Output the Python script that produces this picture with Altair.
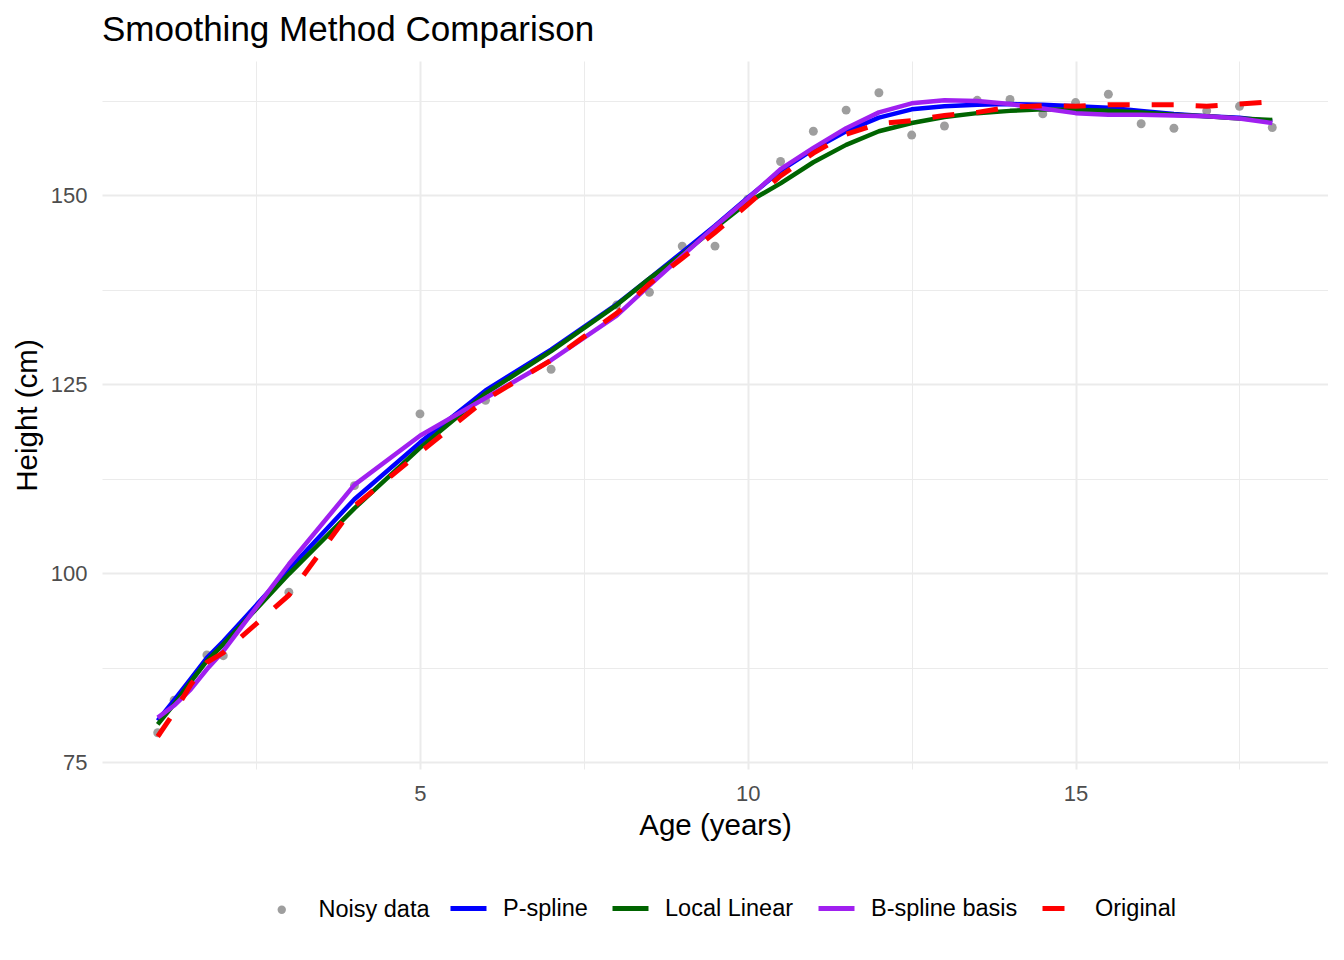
import altair as alt
import pandas as pd

# ---- data ----
ages = [1, 1.25, 1.5, 1.75, 2, 3, 4, 5, 6, 7, 8, 8.5, 9, 9.5, 10, 10.5, 11, 11.5,
        12, 12.5, 13, 13.5, 14, 14.5, 15, 15.5, 16, 16.5, 17, 17.5, 18]
noisy = [78.9, 83.2, 85.4, 89.2, 89.1, 97.5, 111.6, 121.1, 122.9, 127.0, 135.5,
         137.2, 143.3, 143.3, 149.5, 154.5, 158.5, 161.3, 163.6, 158.0, 159.2,
         162.6, 162.7, 160.8, 162.3, 163.4, 159.5, 158.9, 161.2, 161.8, 159.0]
pspline = [80.5, 83.2, 86.0, 88.8, 91.0, 100.5, 109.8, 117.3, 124.2, 129.6, 135.6,
           139.0, 142.5, 146.0, 149.7, 153.3, 156.1, 158.5, 160.3, 161.4, 161.8,
           162.0, 162.1, 162.0, 161.8, 161.6, 161.2, 160.8, 160.5, 160.3, 159.8]
local_linear = [80.0, 82.7, 85.6, 88.4, 90.6, 99.9, 108.6, 116.6, 123.8, 129.4, 135.5,
                139.0, 142.2, 145.7, 149.1, 151.6, 154.4, 156.7, 158.5, 159.6, 160.4,
                160.9, 161.2, 161.4, 161.3, 161.2, 161.0, 160.7, 160.5, 160.2, 160.0]
bspline = [80.9, 82.5, 84.6, 87.3, 89.7, 101.2, 111.7, 118.2, 123.2, 128.2, 134.1,
           138.1, 142.0, 145.9, 149.6, 153.5, 156.3, 158.9, 161.0, 162.2, 162.6,
           162.5, 162.1, 161.5, 160.9, 160.7, 160.7, 160.6, 160.5, 160.2, 159.6]
original = [78.4, 81.6, 85.2, 88.2, 89.5, 97.1, 108.9, 116.0, 123.0, 128.2, 134.4,
            138.3, 141.7, 145.1, 148.8, 152.6, 155.6, 158.1, 159.5, 159.9, 160.6,
            161.0, 161.7, 161.9, 161.8, 162.0, 162.0, 162.0, 161.8, 162.1, 162.4]

point_name = "Noisy data"
point_color = "#9E9E9E"
line_names = ["P-spline", "Local Linear", "B-spline basis", "Original"]
line_colors = ["#0000FF", "#006400", "#A020F0", "#FF0000"]

x_ticks = [2.5, 5, 7.5, 10, 12.5, 15, 17.5]
y_ticks = [75, 87.5, 100, 112.5, 125, 137.5, 150, 162.5]

FONT = "Liberation Sans"

points_df = pd.DataFrame({"age": ages, "height": noisy, "method": point_name})
line_data = dict(zip(line_names, [pspline, local_linear, bspline, original]))

point_legend = alt.Legend(
    title=None, orient="none", direction="horizontal",
    legendX=168, legendY=837, padding=0,
    labelFont=FONT, labelFontSize=23.5, labelColor="black", labelOffset=25,
    symbolSize=70, symbolFillColor=point_color, symbolStrokeWidth=0,
    symbolOpacity=1,
)
line_legend = alt.Legend(
    title=None, orient="none", direction="horizontal",
    legendX=346, legendY=827, padding=0,
    labelFont=FONT, labelFontSize=23.5, labelColor="black",
    labelOffset=14, columnPadding=14, symbolSize=1296, symbolType="stroke",
    symbolStrokeWidth=5, symbolOpacity=1,
    symbolDash=alt.ExprRef("datum.value === 'Original' ? [22, 22] : [1, 0]"),
)

grid_w_x = {"condition": {"test": "datum.value % 5 === 0", "value": 2}, "value": 1}
grid_w_y = {"condition": {"test": "datum.value % 25 === 0", "value": 2}, "value": 1}

x_enc = alt.X("age:Q",
              scale=alt.Scale(domain=[0.15, 18.85], nice=False, zero=False),
              axis=alt.Axis(values=x_ticks,
                            labelExpr="datum.value % 5 === 0 ? datum.label : ''",
                            title="Age (years)", ticks=False, domain=False,
                            gridColor="#EBEBEB", gridWidth=grid_w_x,
                            labelFont=FONT, labelFontSize=22, labelColor="#4D4D4D",
                            labelPadding=14, titleFont=FONT, titleFontSize=29.5,
                            titleFontWeight="normal", titleColor="black",
                            titlePadding=7))
y_enc = alt.Y("height:Q",
              scale=alt.Scale(domain=[74.1, 167.8], nice=False, zero=False),
              axis=alt.Axis(values=y_ticks,
                            labelExpr="datum.value % 25 === 0 ? datum.label : ''",
                            title="Height (cm)", ticks=False, domain=False,
                            gridColor="#EBEBEB", gridWidth=grid_w_y,
                            labelFont=FONT, labelFontSize=22, labelColor="#4D4D4D",
                            labelPadding=15, titleFont=FONT, titleFontSize=29.5,
                            titleFontWeight="normal", titleColor="black",
                            titlePadding=8))
color_enc = alt.Color("method:N",
                      scale=alt.Scale(domain=line_names, range=line_colors),
                      legend=line_legend)

points = alt.Chart(points_df).mark_point(filled=True, size=80, opacity=1,
                                         color=point_color, strokeWidth=0).encode(
    x=x_enc, y=y_enc,
    shape=alt.Shape("method:N", scale=alt.Scale(domain=[point_name], range=["circle"]),
                    legend=point_legend))

layers = [points]
for name in line_names:
    df = pd.DataFrame({"age": ages, "height": line_data[name], "method": name})
    if name == "Original":
        mk = alt.Chart(df).mark_line(strokeWidth=5, strokeDash=[22, 22], strokeCap="butt")
    else:
        mk = alt.Chart(df).mark_line(strokeWidth=4.5, strokeJoin="round")
    layers.append(mk.encode(x=x_enc, y=y_enc, color=color_enc))

chart = alt.layer(*layers).properties(
    width=1226, height=708,
    title=alt.TitleParams("Smoothing Method Comparison", anchor="start", frame="group",
                          font=FONT, fontSize=35, fontWeight="normal", color="black",
                          offset=13),
    padding={"left": 4, "top": 5, "right": 0, "bottom": 5},
    background="white",
).configure_view(stroke=None)

chart.save("out.html", embed_options={"renderer": "svg", "actions": False})
